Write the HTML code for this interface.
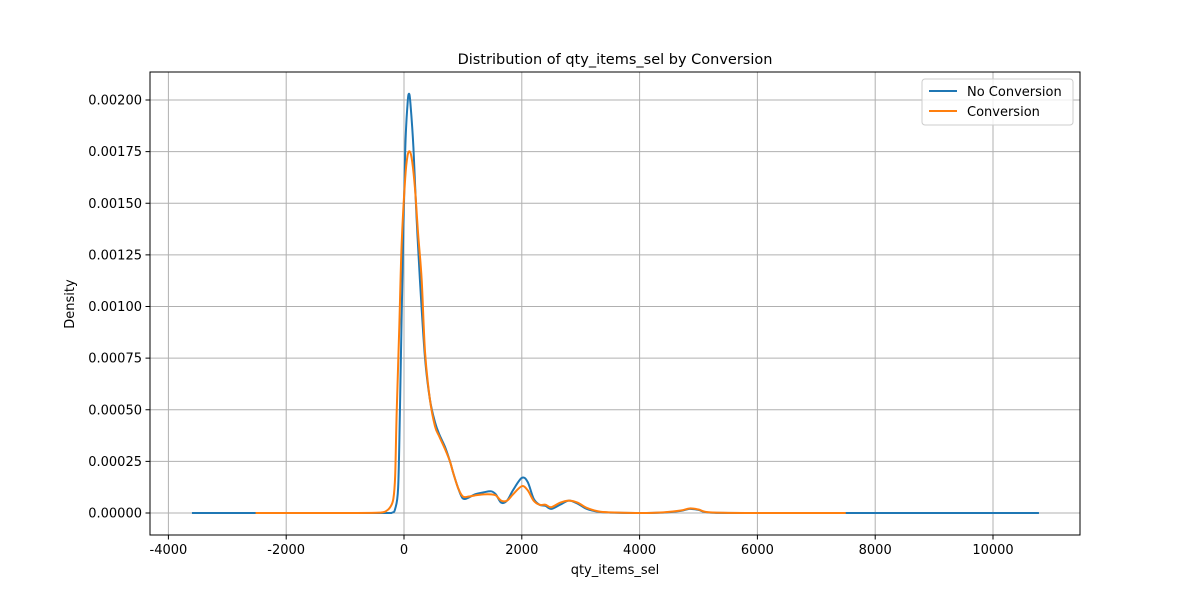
<!DOCTYPE html>
<html><head><meta charset="utf-8">
<style>
body{margin:0;background:#fff;font-family:"Liberation Sans","DejaVu Sans",sans-serif;}
svg text{font-family:"DejaVu Sans","Liberation Sans",sans-serif;}
</style></head>
<body>
<svg id="chart" width="1200" height="600">
<rect width="1200" height="600" fill="#fff"/>
<g id="grid"></g>
<g id="series"></g>
<rect x="150" y="72" width="930" height="463" fill="none" stroke="#000" stroke-width="1"/>
<g id="axes"></g>
<text x="615" y="64" text-anchor="middle" font-size="14.5">Distribution of qty_items_sel by Conversion</text>
<text x="615" y="574" text-anchor="middle" font-size="13">qty_items_sel</text>
<text transform="translate(74,304) rotate(-90)" text-anchor="middle" font-size="13">Density</text>
<g>
<rect x="922" y="79" width="151" height="46" rx="3" fill="#fff" stroke="#ccc" fill-opacity="0.8"/>
<g>
<line x1="929" y1="91" x2="957" y2="91" stroke="#1f77b4" stroke-width="2"/>
<text x="967" y="96" font-size="13">No Conversion</text></g>
<g>
<line x1="929" y1="111" x2="957" y2="111" stroke="#ff7f0e" stroke-width="2"/>
<text x="967" y="116" font-size="13">Conversion</text></g>
</g>
</svg>
<script>
const xTicks=[-4000,-2000,0,2000,4000,6000,8000,10000];
const yTicks=[0,0.00025,0.0005,0.00075,0.001,0.00125,0.0015,0.00175,0.002];
const yTickLabels=["0.00000","0.00025","0.00050","0.00075","0.00100","0.00125","0.00150","0.00175","0.00200"];
const blueX=[-3600,-1000,-300,-200,-150,-100,-70,-30,20,60,85,110,160,210,270,357,440,526,600,696,780,840,920,1000,1100,1200,1350,1480,1560,1650,1750,1850,2000,2100,2200,2300,2400,2500,2650,2800,2950,3100,3300,3500,4000,4400,4700,4850,5000,5200,6000,10780];
const blueY=[0,0,0,0.000002,0.00002,0.00012,0.00048,0.0011,0.00175,0.00198,0.00203,0.00198,0.00177,0.00145,0.00113,0.00075,0.00055,0.00044,0.00038,0.00032,0.00025,0.00019,0.00012,0.00007,0.000075,0.00009,0.0001,0.000105,0.00009,0.00005,0.00006,0.00011,0.00017,0.00015,0.00007,0.00004,0.000035,0.00002,0.00004,0.00006,0.000045,0.00002,0.000006,0.000002,0,0.000002,0.00001,0.00002,0.000015,0.000002,0,0];
const orangeX=[-2520,-800,-400,-300,-230,-180,-150,-125,-80,-40,20,60,100,140,187,240,300,357,440,526,600,696,780,840,920,1000,1100,1200,1350,1480,1560,1650,1750,1850,2000,2100,2200,2300,2400,2500,2650,2800,2950,3100,3300,3500,4000,4400,4700,4850,5000,5200,6000,7500];
const orangeY=[0,0,0.000002,0.00001,0.00003,0.00007,0.00018,0.00048,0.0009,0.0013,0.00162,0.00173,0.00175,0.0017,0.00157,0.00135,0.00113,0.00078,0.00055,0.00042,0.00037,0.00031,0.00025,0.00019,0.00012,0.00008,0.00008,0.000085,0.00009,0.00009,0.000085,0.00006,0.00006,0.00009,0.00013,0.00011,0.00006,0.00004,0.00004,0.000028,0.00005,0.00006,0.00005,0.000025,0.000008,0.000003,0,0.000003,0.000012,0.000022,0.000017,0.000003,0,0];
const X0=404,XS=0.05890, Y0=513, YS=206500;
const sx=v=>X0+v*XS, sy=v=>Y0-v*YS;
const NS='http://www.w3.org/2000/svg';
const grid=document.getElementById('grid'),axes=document.getElementById('axes'),ser=document.getElementById('series');
function mk(t,a,p){const e=document.createElementNS(NS,t);for(const k in a)e.setAttribute(k,a[k]);p.appendChild(e);return e;}
xTicks.forEach(v=>{const x=sx(v);
const g=mk('line',{x1:x,x2:x,y1:72,y2:535,stroke:'#b0b0b0','stroke-width':1},grid);


mk('line',{x1:x,x2:x,y1:535,y2:539.5,stroke:'#000'},axes);
const t=mk('text',{x:x,y:554,'text-anchor':'middle','font-size':13},axes);t.textContent=v;

});
yTicks.forEach((v,i)=>{const y=sy(v);
const g=mk('line',{x1:150,x2:1080,y1:y,y2:y,stroke:'#b0b0b0','stroke-width':1},grid);


mk('line',{x1:145.5,x2:150,y1:y,y2:y,stroke:'#000'},axes);
const t=mk('text',{x:142,y:y+4.5,'text-anchor':'end','font-size':13},axes);t.textContent=yTickLabels[i];

});
function path(xs,ys){const p=xs.map((x,i)=>[sx(x),sy(ys[i])]);let d='M'+p[0][0]+','+p[0][1];
for(let i=0;i<p.length-1;i++){const a=p[i-1]||p[i],b=p[i],c=p[i+1],e=p[i+2]||c;
let c1y=b[1]+(c[1]-a[1])/6,c2y=c[1]-(e[1]-b[1])/6;c1y=Math.min(c1y,Y0);c2y=Math.min(c2y,Y0);
d+=` C${b[0]+(c[0]-a[0])/6},${c1y} ${c[0]-(e[0]-b[0])/6},${c2y} ${c[0]},${c[1]}`;}return d;}
const pb=mk('path',{d:path(blueX,blueY),fill:'none',stroke:'#1f77b4','stroke-width':2},ser);


const po=mk('path',{d:path(orangeX,orangeY),fill:'none',stroke:'#ff7f0e','stroke-width':2},ser);


</script>
</body></html>
